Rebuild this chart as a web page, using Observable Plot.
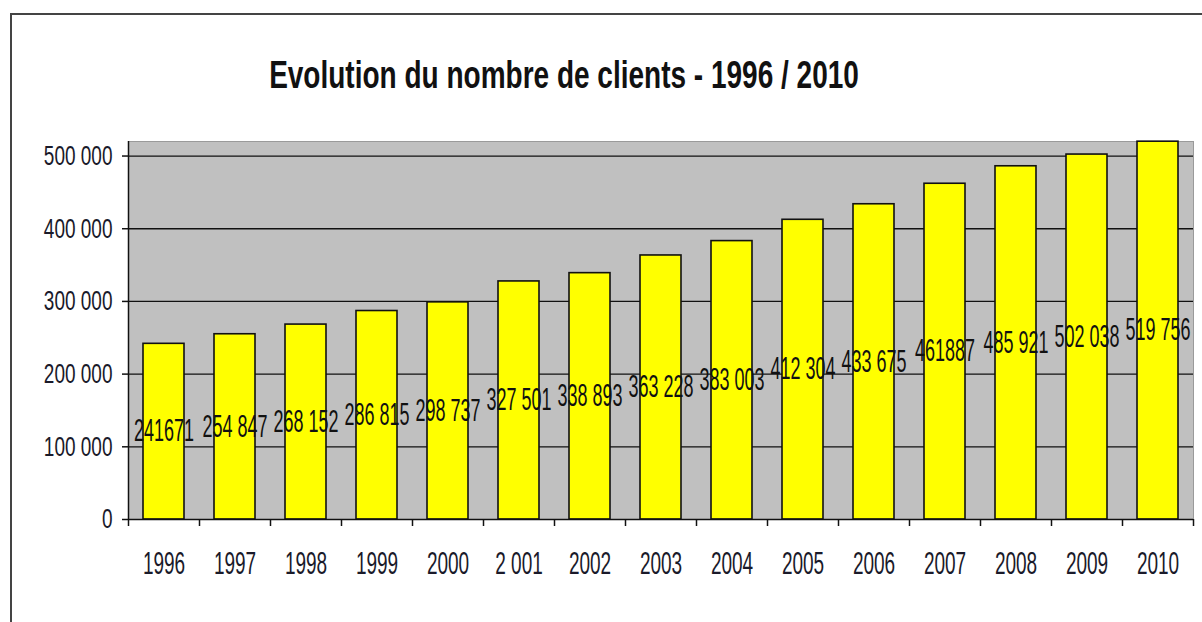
<!DOCTYPE html>
<html>
<head>
<meta charset="utf-8">
<script src="https://cdn.jsdelivr.net/npm/d3@7"></script>
<script src="https://cdn.jsdelivr.net/npm/@observablehq/plot@0.6"></script>
<style>
  html, body { margin: 0; padding: 0; background: #fff; width: 1202px; height: 622px; overflow: hidden; }
  body { position: relative; font-family: "Liberation Sans", Arial, sans-serif; }
  #frame { position: absolute; left: 10px; top: 13px; width: 1400px; height: 800px;
           border-left: 2px solid #444; border-top: 2px solid #444; box-sizing: border-box; }
  #title { position: relative; height: 110px; width: 1128px; text-align: center; }
  #title span { position: absolute; left: 0; right: 0; top: 58px; font-weight: bold; font-size: 28px;
                line-height: 34px; color: #111; display: block; transform: scaleY(1.4); transform-origin: center; }
  #chart { position: relative; }
</style>
</head>
<body>
<div id="frame"></div>
<div id="title"><span>Evolution du nombre de clients - 1996 / 2010</span></div>
<div id="chart"></div>
<script>
const years = ["1996","1997","1998","1999","2000","2001","2002","2003","2004","2005","2006","2007","2008","2009","2010"];
const yearLabels = ["1996","1997","1998","1999","2000","2 001","2002","2003","2004","2005","2006","2007","2008","2009","2010"];
const clients = [241671, 254847, 268152, 286815, 298737, 327501, 338893, 363228, 383003, 412304, 433675, 461887, 485921, 502038, 519756];
const valueLabels = ["241671","254 847","268 152","286 815","298 737","327 501","338 893","363 228","383 003","412 304","433 675","461887","485 921","502 038","519 756"];
const yTicks = [0, 100000, 200000, 300000, 400000, 500000];

const data = years.map((y, i) => ({year: y, value: clients[i], label: valueLabels[i]}));
const yearLabel = new Map(years.map((y, i) => [y, yearLabels[i]]));

const W = 1202, H = 512, mL = 128, mR = 9, mT = 31, mB = 103;
const step = (W - mL - mR) / years.length;
const fmt = d => d3.format(",")(d).replace(/,/g, " ");
const font = "\"Liberation Sans\", Arial, sans-serif";

const plot = Plot.plot({
  width: W, height: H,
  marginLeft: mL, marginRight: mR, marginTop: mT, marginBottom: mB,
  style: {fontFamily: font, background: "transparent", overflow: "visible"},
  x: {domain: years, paddingInner: 0.42, paddingOuter: 0.21, axis: null},
  y: {domain: [0, 520000], axis: null},
  marks: [
    Plot.frame({fill: "#c0c0c0", stroke: "#9a9a9a"}),
    Plot.ruleY(yTicks.slice(1), {stroke: "#111", strokeWidth: 1.3}),
    Plot.barY(data, {x: "year", y: "value", fill: "#ffff00", stroke: "#111", strokeWidth: 1.6}),
    Plot.ruleY([0], {stroke: "#111", strokeWidth: 1.5}),
    Plot.ruleX([years[0]], {dx: -step / 2, y1: 0, y2: 520000, stroke: "#111", strokeWidth: 1.5}),
    Plot.ruleX(years, {dx: -step / 2, y1: 0, y2: 0, insetBottom: -7, stroke: "#111", strokeWidth: 1.5}),
    Plot.ruleX([years[years.length - 1]], {dx: step / 2, y1: 0, y2: 0, insetBottom: -7, stroke: "#111", strokeWidth: 1.5}),
    Plot.axisY({ticks: yTicks, tickFormat: fmt, tickSize: 6, tickPadding: 10, fontSize: 19, fill: "#1a1a2a", stroke: "#111", strokeWidth: 1.5, className: "ylab", label: null}),
    Plot.axisX({tickFormat: d => yearLabel.get(d), tickSize: 0, tickPadding: 32, fontSize: 19, fill: "#1a1a2a", className: "xlab", label: null}),
    Plot.text(data, {x: "year", y: d => d.value / 2, text: "label", fontSize: 18, fill: "#111", className: "vlab"})
  ]
});

// Stretch glyphs vertically (the reference text is tall and narrow)
function stretch(selector, s) {
  plot.querySelectorAll(selector + " text").forEach(t => {
    const tr = t.getAttribute("transform");
    if (tr) {
      t.setAttribute("transform", tr + ` scale(1,${s})`);
    } else {
      const x = +(t.getAttribute("x") || 0), y = +(t.getAttribute("y") || 0);
      t.removeAttribute("x"); t.removeAttribute("y");
      t.setAttribute("transform", `translate(${x},${y}) scale(1,${s})`);
    }
  });
}
stretch(".ylab", 1.45);
stretch(".xlab", 1.65);
stretch(".vlab", 1.7);

document.getElementById("chart").appendChild(plot);
</script>
</body>
</html>
